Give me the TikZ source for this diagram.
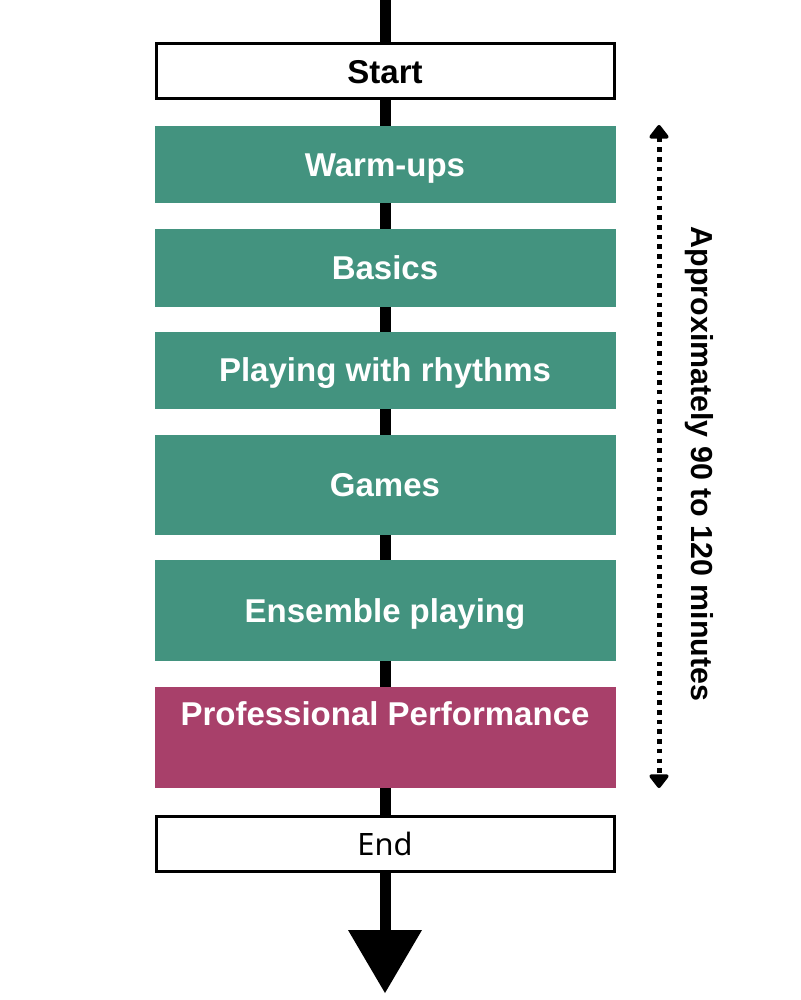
\documentclass[tikz,border=0pt]{standalone}
\usepackage{fontspec}
\setmainfont{Liberation Sans}
\newfontfamily\endfont{Noto Sans}
\usetikzlibrary{arrows.meta}
\definecolor{teal1}{HTML}{43937F}
\definecolor{plum1}{HTML}{A8406A}
\begin{document}
\begin{tikzpicture}[x=1pt,y=-1pt,
  capsfont/.style={font=\fontsize{33}{36}\selectfont\bfseries,text height=23.6pt,text depth=0pt},
  termbox/.style={draw=black,line width=3pt,fill=white,minimum width=458pt,minimum height=55pt,inner sep=0pt},
  stagebox/.style={fill=teal1,minimum width=461pt,inner sep=0pt,text=white,capsfont},
  spine/.style={line width=11pt,black},
  span/.style={line width=5pt,dash pattern=on 4.5pt off 5.2pt,{Triangle[width=22pt,length=15pt,round]}-{Triangle[width=22pt,length=15pt,round]}}
]
\useasboundingbox (0,0) rectangle (800,1000);
\coordinate (top) at (385,0);
\coordinate (tipbase) at (385,930);
\draw[spine] (top) -- (tipbase);
\fill[black] (348,930) -- (422,930) -- (385,993) -- cycle;

\node[termbox,capsfont] (start) at (385,71.5) {Start};
\node[stagebox,minimum height=77pt] (warm) at (385,165) {Warm-ups};
\node[stagebox,minimum height=77pt] (basics) at (385,268) {Basics};
\node[stagebox,minimum height=77pt] (rhythm) at (385,370) {Playing with rhythms};
\node[stagebox,minimum height=100pt] (games) at (385,485) {Games};
\node[stagebox,minimum height=101pt] (ens) at (385,610.5) {Ensemble playing};
\node[stagebox,fill=plum1,minimum height=101pt] (prof) at (385,737) {};
\node[text=white,capsfont,inner sep=0pt] (proftext) at (385,713.5) {Professional Performance};
\node[termbox,font=\fontsize{30.8}{34}\selectfont\endfont,text height=22pt,text depth=0pt] (end) at (385,844) {End};

\coordinate (ta) at (659,125);
\coordinate (tb) at (659,788);
\draw[span] (ta) -- (tb);
\node[rotate=-90,font=\fontsize{30.4}{34}\selectfont\bfseries,text height=21.8pt,text depth=0pt,inner sep=0pt] (dur) at (702.5,464) {Approximately 90 to 120 minutes};
\end{tikzpicture}
\end{document}
